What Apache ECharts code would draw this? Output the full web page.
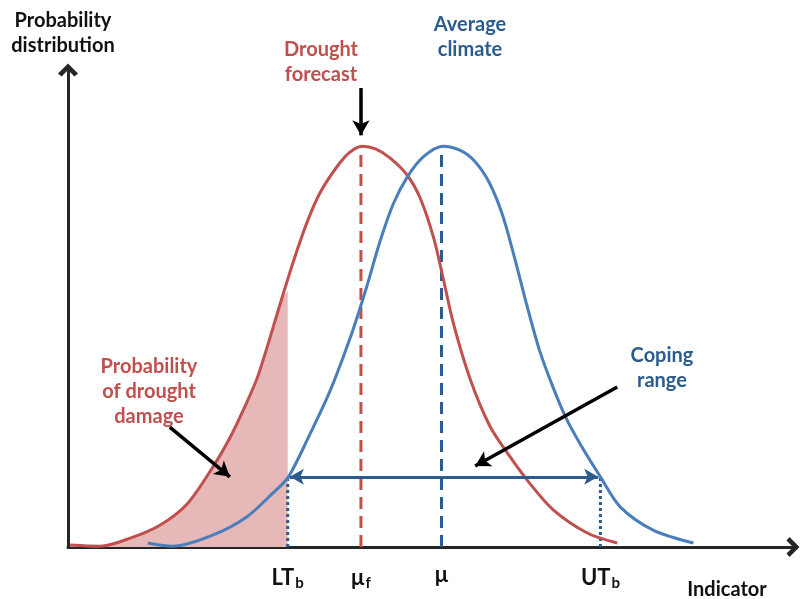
<!DOCTYPE html>
<html>
<head>
<meta charset="utf-8">
<script src="https://cdn.jsdelivr.net/npm/echarts@6/dist/echarts.min.js"></script>
<style>
  html, body { margin: 0; padding: 0; background: #fff; }
  #main { width: 801px; height: 599px; }
</style>
</head>
<body>
<div id="main"></div>
<script>
// indicator (0..99) vs probability density (peak = 1)
let forecastCurve = [
  [0.3, 0.005], [4.4, 0.002], [8.5, 0.022], [12.6, 0.055], [16.3, 0.108], [19.8, 0.2],
  [22.1, 0.272], [24.4, 0.36], [26.0, 0.43], [29.0, 0.608], [30.7, 0.708], [32.6, 0.808],
  [34.4, 0.883], [36.7, 0.948], [38.5, 0.985], [40.2, 1.0], [42.0, 0.993], [44.0, 0.97],
  [46.3, 0.928], [48.1, 0.87], [49.9, 0.773], [51.2, 0.673], [52.6, 0.56], [54.9, 0.42],
  [57.6, 0.302], [60.4, 0.224], [63.0, 0.16], [66.3, 0.092], [70.9, 0.035], [75.0, 0.01]
];
let climateCurve = [
  [10.9, 0.01], [14.3, 0.002], [19.8, 0.03], [24.4, 0.075], [28.0, 0.135], [30.1, 0.175],
  [33.1, 0.284], [35.8, 0.39], [38.9, 0.541], [40.8, 0.65], [42.6, 0.762], [44.4, 0.855],
  [46.3, 0.922], [48.5, 0.973], [51.2, 1.0], [53.5, 0.99], [55.5, 0.963], [57.5, 0.91],
  [59.3, 0.83], [61.0, 0.72], [62.7, 0.6], [64.4, 0.49], [66.2, 0.4], [68.0, 0.322],
  [70.0, 0.255], [72.7, 0.175], [75.4, 0.1], [79.9, 0.042], [85.4, 0.01]
];
let tickValues = [30, 40, 51, 72.7];
let tickLabels = ['{m|LT}{s|b}', '{m|μ}{s|f}', '{m|μ}', '{m|UT}{s|b}'];
let LTb = 30, muF = 40, mu = 51, UTb = 72.7;
let copingLevel = 0.175;
let lowerFill = forecastCurve.filter(p => p[0] <= LTb).concat([[LTb, 0.64]]);
// annotation arrows [from, to]
let pointerArrows = [
  [[40.0, 1.145], [40.0, 1.027]],
  [[51.2, 1.209], [51.2, 1.085]],
  [[13.9, 0.299], [22.1, 0.175]],
  [[75.0, 0.399], [55.6, 0.202]]
];

let red = '#c0504d', blue = '#4a7ebb', navy = '#2c5b8e';
let font = 'Lato, "Noto Sans", sans-serif';
let chevron = 'path://M0,10 L10,0 L20,10 L16.5,13 L10,6.5 L3.5,13 Z';

let chart = echarts.init(document.getElementById('main'));

function txt(x, y, text, color, size) {
  return {
    type: 'text', z: 100,
    style: {
      x: x, y: y, text: text, fill: color, align: 'center', verticalAlign: 'middle',
      font: 'bold ' + size + 'px ' + font, lineHeight: 25
    }
  };
}

let option = {
  animation: false,
  grid: { left: 68, right: 8, top: 70, bottom: 52 },
  xAxis: {
    type: 'value', min: 0, max: 99,
    splitLine: { show: false },
    axisTick: { show: false },
    axisLine: {
      show: true, onZero: false,
      lineStyle: { color: '#262626', width: 3 },
      symbol: ['none', chevron], symbolSize: [20, 13]
    },
    axisLabel: {
      customValues: tickValues,
      margin: 17,
      formatter: function (v) {
        let i = tickValues.indexOf(v);
        return i >= 0 ? tickLabels[i] : '';
      },
      rich: {
        m: { fontFamily: font, fontWeight: 'bold', fontSize: 22, color: '#111' },
        s: { fontFamily: font, fontWeight: 'bold', fontSize: 15, color: '#111', padding: [12, 0, 0, 1] }
      }
    }
  },
  yAxis: {
    type: 'value', min: 0, max: 1.19,
    splitLine: { show: false },
    axisTick: { show: false },
    axisLabel: { show: false },
    axisLine: {
      show: true,
      lineStyle: { color: '#262626', width: 3 },
      symbol: ['none', chevron], symbolSize: [20, 13]
    }
  },
  graphic: [
    txt(63, 33, 'Probability\ndistribution', '#111', 20),
    txt(321, 62, 'Drought\nforecast', red, 20),
    txt(470, 37, 'Average\nclimate', navy, 20),
    txt(149, 392, 'Probability\nof drought\ndamage', red, 20),
    txt(662, 368, 'Coping\nrange', navy, 20),
    txt(727, 590, 'Indicator', '#111', 20)
  ],
  series: [
    {
      type: 'line', data: lowerFill, smooth: 0.3, symbol: 'none', z: 1,
      lineStyle: { width: 0 },
      areaStyle: { color: '#e6b9b8', opacity: 1 }
    },
    {
      type: 'line', data: [[LTb, 0], [LTb, copingLevel]], symbol: 'none', z: 2,
      lineStyle: { color: navy, width: 3, type: [3, 3] }
    },
    {
      type: 'line', data: [[UTb, 0], [UTb, copingLevel]], symbol: 'none', z: 2,
      lineStyle: { color: navy, width: 3, type: [3, 3] }
    },
    {
      type: 'line', data: [[muF, 0], [muF, 1]], symbol: 'none', z: 3,
      lineStyle: { color: red, width: 3, type: [12, 7] }
    },
    {
      type: 'line', data: [[mu, 0], [mu, 1]], symbol: 'none', z: 3,
      lineStyle: { color: navy, width: 3, type: [12, 7] }
    },
    {
      type: 'line', data: forecastCurve, smooth: 0.3, symbol: 'none', z: 4,
      lineStyle: { color: red, width: 3 }
    },
    {
      type: 'line', data: climateCurve, smooth: 0.3, symbol: 'none', z: 4,
      lineStyle: { color: blue, width: 3 },
      clip: false,
      markLine: {
        silent: true, animation: false,
        label: { show: false },
        symbol: ['arrow', 'arrow'], symbolSize: [12, 14],
        lineStyle: { color: navy, width: 3, type: 'solid' },
        data: [[{ coord: [LTb + 0.3, copingLevel] }, { coord: [UTb - 0.3, copingLevel] }]]
      }
    },
    {
      type: 'line', data: [], symbol: 'none', z: 5, clip: false,
      markLine: {
        silent: true, animation: false,
        label: { show: false },
        symbol: ['none', 'arrow'], symbolSize: [13, 15],
        lineStyle: { color: '#000', width: 3.5, type: 'solid' },
        data: pointerArrows.map(a => [{ coord: a[0] }, { coord: a[1] }])
      }
    }
  ]
};
chart.setOption(option);
</script>
</body>
</html>
